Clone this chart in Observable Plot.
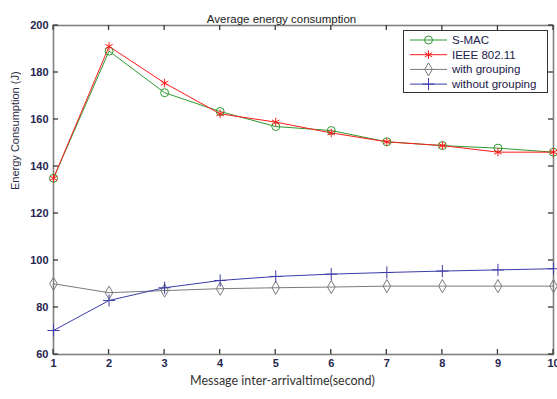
<!DOCTYPE html>
<html><head><meta charset="utf-8">
<script src="https://cdn.jsdelivr.net/npm/d3@7"></script>
<script src="https://cdn.jsdelivr.net/npm/@observablehq/plot@0.6"></script>
<style>
body{margin:0;background:#fff}
#chart{position:relative;width:557px;height:399px}
</style>
</head><body><div id="chart"></div>
<script>
const titleText = "Average energy consumption";
const xLabel = "Message inter-arrivaltime(second)";
const yLabel = "Energy Consumption (J)";
const xValues = [1, 2, 3, 4, 5, 6, 7, 8, 9, 10];
const xTicks = [1, 2, 3, 4, 5, 6, 7, 8, 9, 10];
const yTicks = [60, 80, 100, 120, 140, 160, 180, 200];
const seriesNames = ["S-MAC", "IEEE 802.11", "with grouping", "without grouping"];
const smac = [135, 189.1, 171.4, 163.4, 157.0, 155.3, 150.5, 148.9, 147.8, 146.1];
const ieee = [135, 191.1, 175.5, 162.4, 158.9, 154.3, 150.5, 148.9, 146.1, 146.1];
const withGrouping = [90.1, 86.3, 87.2, 88.0, 88.4, 88.7, 89.1, 89.1, 89.1, 89.1];
const withoutGrouping = [70.2, 83.0, 88.4, 91.5, 93.2, 94.2, 94.9, 95.5, 96.0, 96.5];
const seriesColors = ["#2e9a2e", "#ff1a1a", "#7a7a7a", "#3c3ca8"];
const seriesSymbols = ["circle", "asterisk", "diamond", "plus"];

const valuesBySeries = [smac, ieee, withGrouping, withoutGrouping];
const rows = seriesNames.flatMap((name, s) => xValues.map((x, i) => ({series: name, x, y: valuesBySeries[s][i]})));

const tickColor = "#262650";
const frameColor = "#808080";
const M = {left: 53, right: 4, top: 25, bottom: 45};

const plot = Plot.plot({
  width: 557, height: 399,
  marginLeft: M.left, marginRight: M.right, marginTop: M.top, marginBottom: M.bottom,
  style: {fontFamily: "'Liberation Sans', Arial, sans-serif", background: "#fff"},
  x: {domain: [1, 10]},
  y: {domain: [60, 200]},
  color: {domain: seriesNames, range: seriesColors},
  symbol: {domain: seriesNames, range: seriesSymbols},
  marks: [
    Plot.axisX({anchor: "bottom", ticks: xTicks, tickSize: 0, tickPadding: 5, tickFormat: d => String(d), fill: tickColor, fontWeight: "bold", fontSize: 11, label: null}),
    Plot.axisY({anchor: "left", ticks: yTicks, tickSize: 0, tickPadding: 5, tickFormat: d => String(d), fill: tickColor, fontWeight: "bold", fontSize: 11, label: null}),
    Plot.frame({stroke: frameColor, strokeWidth: 1.6}),
    Plot.line(rows, {x: "x", y: "y", z: "series", stroke: "series", strokeWidth: 1}),
    Plot.dot(rows, {x: "x", y: "y", stroke: "series", symbol: "series", fill: "none", r: 4, strokeWidth: 1}),
    Plot.text([titleText], {frameAnchor: "top", dy: -11, dx: -22, fontSize: 11.5, fill: "#222"}),
    Plot.text([xLabel], {frameAnchor: "bottom", dy: 30, dx: -21, fontSize: 12.5, fill: "#333", fontFamily: "Lato, 'Open Sans', sans-serif"}),
    Plot.text([yLabel], {frameAnchor: "left", dx: -38, rotate: -90, fontSize: 11, fill: "#2a2a44"})
  ]
});

document.getElementById("chart").appendChild(plot);

const svg = d3.select(plot);
// inward ticks on all four sides, positioned with Plot's own scales
const sx = plot.scale("x"), sy = plot.scale("y");
const frameL = M.left, frameR = 557 - M.right, frameT = M.top, frameB = 399 - M.bottom;
const tg = svg.append("g").attr("class", "inward-ticks");
function tick(x1, y1, x2, y2) {
  tg.append("path").attr("d", `M${x1},${y1}L${x2},${y2}`)
    .attr("fill", "none").attr("stroke", "#3a3a3a").attr("stroke-width", 1.3);
}
xTicks.forEach(v => {
  const px = sx.apply(v);
  tick(px, frameB, px, frameB - 5);
  tick(px, frameT, px, frameT + 5);
});
yTicks.forEach(v => {
  const py = sy.apply(v);
  tick(frameL, py, frameL + 5, py);
  tick(frameR, py, frameR - 5, py);
});

// legend
const lg = svg.append("g").attr("class", "legend").attr("text-anchor", "start");
const bx = 403.5, by = 30.5, bw = 144, bh = 62;
lg.append("rect").attr("x", bx).attr("y", by).attr("width", bw).attr("height", bh)
  .attr("fill", "#fff").attr("stroke", "#333").attr("stroke-width", 1);
const symMap = {circle: d3.symbolCircle, asterisk: d3.symbolAsterisk, diamond: d3.symbolDiamond, plus: d3.symbolPlus};
seriesNames.forEach((name, i) => {
  const yy = 40 + i * 14.7;
  const g = lg.append("g");
  g.append("line").attr("x1", 410).attr("x2", 447).attr("y1", yy).attr("y2", yy)
    .attr("stroke", seriesColors[i]).attr("stroke-width", 1);
  g.append("path").attr("transform", `translate(428.5,${yy})`)
    .attr("d", d3.symbol(symMap[seriesSymbols[i]], Math.PI * 16)())
    .attr("fill", "none").attr("stroke", seriesColors[i]).attr("stroke-width", 1);
  g.append("text").attr("x", 452).attr("y", yy).attr("dy", "0.35em")
    .attr("text-anchor", "start")
    .attr("font-size", 11.5).attr("fill", "#20204a").text(name);
});
</script>
</body></html>
